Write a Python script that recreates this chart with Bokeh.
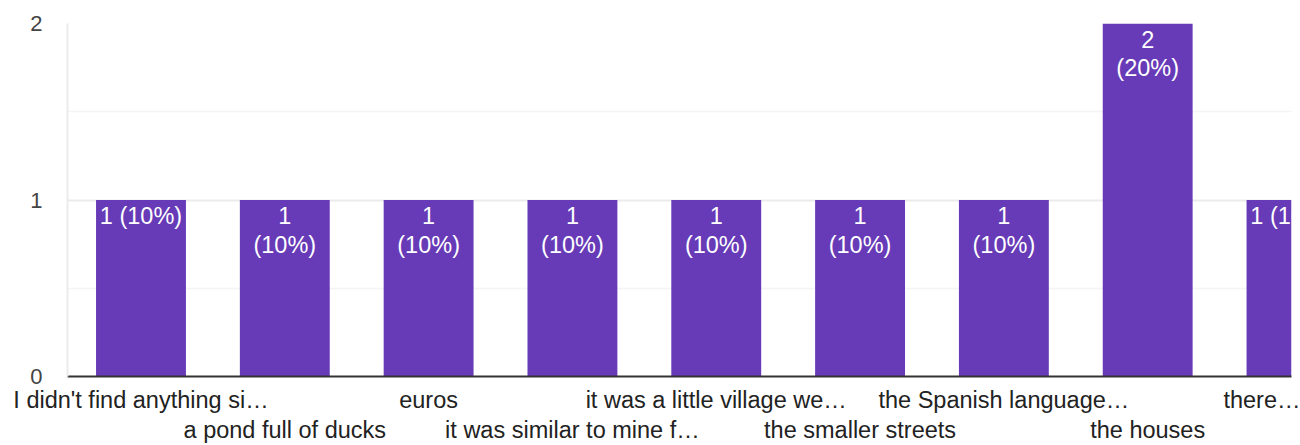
from bokeh.plotting import figure
from bokeh.models import Range1d, FixedTicker, LinearAxis, ColumnDataSource
from bokeh.embed import file_html
from bokeh.resources import INLINE
from bokeh.core.properties import value

# ---- data ----
categories = [
    "I didn't find anything si…",
    "a pond full of ducks",
    "euros",
    "it was similar to mine f…",
    "it was a little village we…",
    "the smaller streets",
    "the Spanish language…",
    "the houses",
    "there…",
]
counts = [1, 1, 1, 1, 1, 1, 1, 2, 1]
single_line = [True, False, False, False, False, False, False, False, True]
y_ticks = [0, 1, 2]
y_minor_ticks = [0.5, 1.5]

FONT = "Liberation Sans"
BAR = "#673ab7"
LABEL_SIZE = "23.5px"

total = sum(counts)
xs = list(range(len(categories)))
labels = []
for c, one in zip(counts, single_line):
    pct = round(c * 100 / total)
    labels.append(f"{c} ({pct}%)" if one else f"{c}\n({pct}%)")

src = ColumnDataSource(dict(x=xs, top=counts, label=labels))

p = figure(
    width=1300, height=445,
    x_range=Range1d(-0.511, 8.0), y_range=Range1d(0, 2),
    output_backend="svg", toolbar_location=None,
    min_border_left=67, min_border_right=9, min_border_top=23, min_border_bottom=69,
)
p.outline_line_color = None
p.background_fill_color = "white"
p.border_fill_color = "white"

p.vbar(x="x", top="top", width=0.625, source=src, fill_color=BAR, line_color=None)
p.text(x="x", y="top", text="label", source=src, text_align="center",
       text_baseline="top", y_offset=3, text_color="white",
       text_font=value(FONT), text_font_size=LABEL_SIZE, text_line_height=1.1)

# y axis / grid
yt = FixedTicker(ticks=y_ticks, minor_ticks=y_minor_ticks)
p.yaxis.ticker = yt
p.yaxis.major_tick_line_color = None
p.yaxis.minor_tick_line_color = None
p.yaxis.axis_line_color = "#ebebeb"
p.yaxis.axis_line_width = 2
p.yaxis.major_label_standoff = 19
p.yaxis.major_label_text_font = FONT
p.yaxis.major_label_text_font_size = "22px"
p.yaxis.major_label_text_color = "#444444"

p.ygrid.ticker = yt
p.ygrid.grid_line_color = "#ebebeb"
p.ygrid.grid_line_width = 2
p.ygrid.minor_grid_line_color = "#f4f4f4"
p.ygrid.minor_grid_line_width = 1.5
p.xgrid.grid_line_color = None

# x axes: two staggered rows of category labels
even = [i for i in xs if i % 2 == 0]
odd = [i for i in xs if i % 2 == 1]

ax1 = p.xaxis[0]
ax1.ticker = FixedTicker(ticks=even)
ax1.major_label_overrides = {i: categories[i] for i in even}
ax1.axis_line_color = "#333333"
ax1.axis_line_width = 2
ax1.major_tick_line_color = None
ax1.minor_tick_line_color = None
ax1.major_label_standoff = 4
ax1.major_label_text_font = FONT
ax1.major_label_text_font_size = LABEL_SIZE
ax1.major_label_text_color = "#222222"

ax2 = LinearAxis(ticker=FixedTicker(ticks=odd),
                 major_label_overrides={i: categories[i] for i in odd})
ax2.axis_line_color = None
ax2.major_tick_line_color = None
ax2.minor_tick_line_color = None
ax2.major_label_standoff = -5
ax2.major_label_text_font = FONT
ax2.major_label_text_font_size = LABEL_SIZE
ax2.major_label_text_color = "#222222"
p.add_layout(ax2, "below")

open("out.html", "w").write(file_html(p, INLINE))
